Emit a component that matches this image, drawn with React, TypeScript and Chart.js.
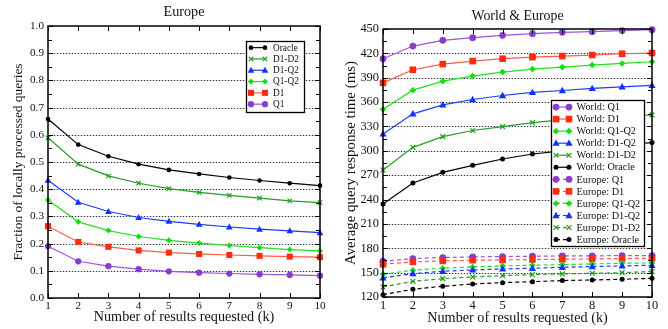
import React, { useEffect, useRef } from 'react';
import { Chart, registerables } from 'chart.js';

Chart.register(...registerables);

// ---------- data ----------
const K_LABELS = ['1', '2', '3', '4', '5', '6', '7', '8', '9', '10'];

const FRAC_Y_TICKS = [0, 0.1, 0.2, 0.3, 0.4, 0.5, 0.6, 0.7, 0.8, 0.9, 1.0];
const TIME_Y_TICKS = [120, 150, 180, 210, 240, 270, 300, 330, 360, 390, 420, 450];

const EU_FRAC_ORACLE = [0.658, 0.564, 0.521, 0.492, 0.471, 0.456, 0.443, 0.432, 0.422, 0.413];
const EU_FRAC_D1D2 = [0.589, 0.492, 0.449, 0.422, 0.402, 0.388, 0.377, 0.367, 0.357, 0.351];
const EU_FRAC_D1Q2 = [0.433, 0.352, 0.318, 0.296, 0.282, 0.271, 0.261, 0.253, 0.247, 0.24];
const EU_FRAC_Q1Q2 = [0.36, 0.28, 0.248, 0.226, 0.212, 0.202, 0.193, 0.185, 0.178, 0.173];
const EU_FRAC_D1 = [0.264, 0.206, 0.188, 0.175, 0.167, 0.162, 0.158, 0.155, 0.152, 0.15];
const EU_FRAC_Q1 = [0.19, 0.135, 0.117, 0.106, 0.098, 0.093, 0.09, 0.087, 0.085, 0.082];

const WORLD_Q1 = [413.4, 429, 436, 439.3, 442.2, 444.2, 445.9, 446.7, 448, 449.2];
const WORLD_D1 = [383.7, 399.8, 406.8, 410.5, 413.4, 415.4, 416.7, 417.9, 419.5, 420.4];
const WORLD_Q1Q2 = [351.2, 374.7, 385.8, 392, 396.9, 400.6, 403.1, 405.6, 407.6, 409.7];
const WORLD_D1Q2 = [320.8, 345.5, 356.6, 363.2, 368.1, 371.9, 374.3, 376.8, 378.8, 380.5];
const WORLD_D1D2 = [276.4, 304.3, 317.5, 325, 329.8, 334.8, 338, 340.5, 342.5, 344.2];
const WORLD_ORACLE = [234.4, 260.3, 273.5, 282.1, 289.9, 296.1, 300, 304, 307.5, 310.1];
const EUROPE_Q1 = [164, 167.3, 168.6, 169.4, 169.8, 170.2, 170.6, 170.6, 171, 171];
const EUROPE_D1 = [160.3, 163.2, 164.4, 165.3, 165.7, 166.1, 166.5, 166.9, 167.3, 167.7];
const EUROPE_Q1Q2 = [148, 153, 155.4, 157, 158.3, 159.1, 159.9, 160.7, 161.6, 162];
const EUROPE_D1Q2 = [143.5, 148.8, 151.7, 153.3, 154.6, 155.4, 156.6, 157.5, 158.3, 159.1];
const EUROPE_D1D2 = [132.3, 139.3, 142.6, 144.7, 146.3, 147.6, 148.4, 149.2, 150, 151.3];
const EUROPE_ORACLE = [122.9, 129.5, 133.2, 136, 137.7, 138.9, 140.2, 141, 141.8, 143];

// ---------- styles ----------
const FONT = '"Liberation Serif", "DejaVu Serif", serif';

type Marker = 'circle' | 'rect' | 'triangle' | 'diamond' | 'cross' | 'dot';
type Style = { color: string; line: string; marker: Marker; r: number };

const ST: Record<string, Style> = {
  Q1: { color: '#8a3ccf', line: '#9a55d8', marker: 'circle', r: 3.4 },
  D1: { color: '#ff2a10', line: '#ff5a48', marker: 'rect', r: 3.3 },
  Q1Q2: { color: '#10e010', line: '#20e020', marker: 'diamond', r: 3.3 },
  D1Q2: { color: '#1030ff', line: '#1a3cff', marker: 'triangle', r: 3.8 },
  D1D2: { color: '#20a020', line: '#2a9a2a', marker: 'cross', r: 2.4 },
  ORACLE: { color: '#000000', line: '#000000', marker: 'dot', r: 2.5 },
};

type Series = { label: string; data: number[]; style: Style; dashed?: boolean };

const LEFT_SERIES: Series[] = [
  { label: 'Oracle', data: EU_FRAC_ORACLE, style: ST.ORACLE },
  { label: 'D1-D2', data: EU_FRAC_D1D2, style: ST.D1D2 },
  { label: 'D1-Q2', data: EU_FRAC_D1Q2, style: ST.D1Q2 },
  { label: 'Q1-Q2', data: EU_FRAC_Q1Q2, style: ST.Q1Q2 },
  { label: 'D1', data: EU_FRAC_D1, style: ST.D1 },
  { label: 'Q1', data: EU_FRAC_Q1, style: ST.Q1 },
];

const RIGHT_SERIES: Series[] = [
  { label: 'World: Q1', data: WORLD_Q1, style: ST.Q1 },
  { label: 'World: D1', data: WORLD_D1, style: ST.D1 },
  { label: 'World: Q1-Q2', data: WORLD_Q1Q2, style: ST.Q1Q2 },
  { label: 'World: D1-Q2', data: WORLD_D1Q2, style: ST.D1Q2 },
  { label: 'World: D1-D2', data: WORLD_D1D2, style: ST.D1D2 },
  { label: 'World: Oracle', data: WORLD_ORACLE, style: ST.ORACLE },
  { label: 'Europe: Q1', data: EUROPE_Q1, style: ST.Q1, dashed: true },
  { label: 'Europe: D1', data: EUROPE_D1, style: ST.D1, dashed: true },
  { label: 'Europe: Q1-Q2', data: EUROPE_Q1Q2, style: ST.Q1Q2, dashed: true },
  { label: 'Europe: D1-Q2', data: EUROPE_D1Q2, style: ST.D1Q2, dashed: true },
  { label: 'Europe: D1-D2', data: EUROPE_D1D2, style: ST.D1D2, dashed: true },
  { label: 'Europe: Oracle', data: EUROPE_ORACLE, style: ST.ORACLE, dashed: true },
];

// ---------- marker drawing ----------
function drawMarker(ctx: CanvasRenderingContext2D, m: Marker, x: number, y: number, r: number, color: string) {
  ctx.save();
  ctx.fillStyle = color;
  ctx.strokeStyle = color;
  ctx.setLineDash([]);
  ctx.lineWidth = 1;
  ctx.beginPath();
  if (m === 'circle' || m === 'dot') {
    ctx.arc(x, y, r, 0, Math.PI * 2);
    ctx.fill();
  } else if (m === 'rect') {
    ctx.rect(x - r, y - r, 2 * r, 2 * r);
    ctx.fill();
  } else if (m === 'triangle') {
    ctx.moveTo(x, y - r);
    ctx.lineTo(x + r * 0.95, y + r * 0.7);
    ctx.lineTo(x - r * 0.95, y + r * 0.7);
    ctx.closePath();
    ctx.fill();
  } else if (m === 'diamond') {
    ctx.moveTo(x, y - r);
    ctx.lineTo(x + r, y);
    ctx.lineTo(x, y + r);
    ctx.lineTo(x - r, y);
    ctx.closePath();
    ctx.fill();
  } else if (m === 'cross') {
    ctx.lineWidth = 1.2;
    ctx.moveTo(x - r, y - r);
    ctx.lineTo(x + r, y + r);
    ctx.moveTo(x + r, y - r);
    ctx.lineTo(x - r, y + r);
    ctx.stroke();
  }
  ctx.restore();
}

type Legend = { x: number; y: number; w: number; h: number; rowH: number; m1: number; m2: number; tx: number; font: number };

type Cfg = {
  title: string;
  titleY: number;
  titleFont: number;
  yTitle: string;
  yTitleX: number;
  yTitleFont: number;
  xTitleY: number;
  xTitleFont: number;
  tickFont: number;
  markerScale: number;
  labels: string[];
  series: Series[];
  yTicks: number[];
  decimals: number;
  padTop: number;
  padRight: number;
  yWidth: number;
  xHeight: number;
  legend: Legend;
};

function makeMarkerPlugin(cfg: Cfg) {
  return {
    id: 'markers',
    afterDatasetsDraw(chart: any) {
      const ctx = chart.ctx;
      cfg.series.forEach((s, di) => {
        const meta = chart.getDatasetMeta(di);
        meta.data.forEach((pt: any) => {
          drawMarker(ctx, s.style.marker, pt.x, pt.y, s.style.r * cfg.markerScale, s.style.color);
        });
      });
    },
  };
}

function makeDecoPlugin(cfg: Cfg) {
  return {
    id: 'deco',
    beforeDatasetsDraw(chart: any) {
      const { ctx, chartArea: a, scales } = chart;
      const y = scales.y;
      ctx.save();
      ctx.lineWidth = 1;
      cfg.yTicks.forEach((v) => {
        const py = Math.round(y.getPixelForValue(v)) + 0.5;
        if (py <= a.top + 1 || py >= a.bottom - 1) return;
        ctx.setLineDash([]);
        ctx.strokeStyle = '#d4d4d4';
        ctx.beginPath();
        ctx.moveTo(a.left, py);
        ctx.lineTo(a.right, py);
        ctx.stroke();
        ctx.setLineDash([1, 2]);
        ctx.strokeStyle = '#333';
        ctx.beginPath();
        ctx.moveTo(a.left, py);
        ctx.lineTo(a.right, py);
        ctx.stroke();
      });
      ctx.restore();
    },
    afterDatasetsDraw(chart: any) {
      const { ctx, chartArea: a, scales } = chart;
      const x = scales.x;
      const y = scales.y;
      ctx.save();
      ctx.setLineDash([]);
      ctx.strokeStyle = '#000';
      ctx.lineWidth = 1;
      // inward ticks on all four sides
      ctx.beginPath();
      for (let i = 0; i < cfg.labels.length; i++) {
        const px = Math.round(x.getPixelForValue(i)) + 0.5;
        ctx.moveTo(px, a.bottom);
        ctx.lineTo(px, a.bottom - 5);
        ctx.moveTo(px, a.top);
        ctx.lineTo(px, a.top + 5);
      }
      for (let i = 0; i < cfg.yTicks.length; i++) {
        const v = cfg.yTicks[i];
        const py = Math.round(y.getPixelForValue(v)) + 0.5;
        ctx.moveTo(a.left, py);
        ctx.lineTo(a.left + 5, py);
        ctx.moveTo(a.right, py);
        ctx.lineTo(a.right - 5, py);
        if (i < cfg.yTicks.length - 1) {
          const mv = (v + cfg.yTicks[i + 1]) / 2;
          const pm = Math.round(y.getPixelForValue(mv)) + 0.5;
          ctx.moveTo(a.left, pm);
          ctx.lineTo(a.left + 4, pm);
          ctx.moveTo(a.right, pm);
          ctx.lineTo(a.right - 4, pm);
        }
      }
      ctx.stroke();
      // frame
      ctx.lineWidth = 1.5;
      ctx.strokeRect(a.left, a.top, a.right - a.left, a.bottom - a.top);

      // legend
      const L = cfg.legend;
      ctx.fillStyle = '#fff';
      ctx.fillRect(L.x, L.y, L.w, L.h);
      ctx.lineWidth = 1.3;
      ctx.strokeStyle = '#000';
      ctx.strokeRect(L.x + 0.5, L.y + 0.5, L.w, L.h);
      ctx.font = `${L.font}px ${FONT}`;
      ctx.textBaseline = 'middle';
      ctx.textAlign = 'left';
      cfg.series.forEach((s, i) => {
        const cy = L.y + L.rowH * (i + 0.5) + 1;
        ctx.save();
        ctx.strokeStyle = s.style.line;
        ctx.lineWidth = 1.2;
        ctx.setLineDash(s.dashed ? [4, 3] : []);
        ctx.beginPath();
        ctx.moveTo(L.m1, cy);
        ctx.lineTo(L.m2, cy);
        ctx.stroke();
        ctx.restore();
        const r = s.style.r * cfg.markerScale;
        drawMarker(ctx, s.style.marker, L.m1, cy, r, s.style.color);
        drawMarker(ctx, s.style.marker, L.m2, cy, r, s.style.color);
        ctx.fillStyle = '#111';
        ctx.fillText(s.label, L.tx, cy + 0.5);
      });

      // titles
      ctx.fillStyle = '#111';
      ctx.textAlign = 'center';
      ctx.textBaseline = 'middle';
      ctx.font = `${cfg.titleFont}px ${FONT}`;
      ctx.fillText(cfg.title, (a.left + a.right) / 2, cfg.titleY);
      ctx.font = `${cfg.xTitleFont}px ${FONT}`;
      ctx.fillText('Number of results requested (k)', (a.left + a.right) / 2, cfg.xTitleY);
      ctx.save();
      ctx.translate(cfg.yTitleX, (a.top + a.bottom) / 2);
      ctx.rotate(-Math.PI / 2);
      ctx.font = `${cfg.yTitleFont}px ${FONT}`;
      ctx.fillText(cfg.yTitle, 0, 0);
      ctx.restore();
      ctx.restore();
    },
  };
}

function ChartBox({ cfg, left }: { cfg: Cfg; left: number }) {
  const ref = useRef<HTMLCanvasElement | null>(null);
  useEffect(() => {
    if (!ref.current) return;
    const datasets = cfg.series.map((s) => ({
      label: s.label,
      data: s.data,
      borderColor: s.style.line,
      backgroundColor: s.style.color,
      borderWidth: 1.2,
      borderDash: s.dashed ? [4, 3] : [],
      pointRadius: 0,
      clip: false as any,
      tension: 0,
    }));
    const chart = new Chart(ref.current, {
      type: 'line',
      data: { labels: cfg.labels, datasets },
      options: {
        animation: false,
        responsive: false,
        maintainAspectRatio: false,
        layout: { padding: { top: cfg.padTop, right: cfg.padRight, left: 0, bottom: 0 } },
        plugins: { legend: { display: false }, title: { display: false }, tooltip: { enabled: false } },
        scales: {
          x: {
            type: 'category',
            offset: false,
            grid: { display: false, drawTicks: false },
            border: { display: false },
            ticks: {
              autoSkip: false,
              maxRotation: 0,
              padding: 1,
              color: '#111',
              font: { family: FONT, size: cfg.tickFont },
            },
            afterFit: (s: any) => {
              s.height = cfg.xHeight;
            },
          },
          y: {
            type: 'linear',
            min: cfg.yTicks[0],
            max: cfg.yTicks[cfg.yTicks.length - 1],
            afterBuildTicks: (s: any) => {
              s.ticks = cfg.yTicks.map((v) => ({ value: v }));
            },
            grid: { display: false, drawTicks: false },
            border: { display: false },
            ticks: {
              padding: 4,
              color: '#111',
              font: { family: FONT, size: cfg.tickFont },
              callback: (v: any) => Number(v).toFixed(cfg.decimals),
            },
            afterFit: (s: any) => {
              s.width = cfg.yWidth;
            },
          },
        },
      },
      plugins: [makeMarkerPlugin(cfg), makeDecoPlugin(cfg)],
    } as any);
    return () => chart.destroy();
  }, []);
  return (
    <canvas
      ref={ref}
      width={334}
      height={329}
      style={{ position: 'absolute', left, top: 0, width: 334, height: 329 }}
    />
  );
}

const LEFT_CFG: Cfg = {
  title: 'Europe',
  titleY: 12,
  titleFont: 14.2,
  yTitle: 'Fraction of locally processed queries',
  yTitleX: 18,
  yTitleFont: 13.4,
  xTitleY: 317,
  xTitleFont: 14.2,
  tickFont: 11.2,
  markerScale: 0.92,
  labels: K_LABELS,
  series: LEFT_SERIES,
  yTicks: FRAC_Y_TICKS,
  decimals: 1,
  padTop: 26,
  padRight: 14,
  yWidth: 48,
  xHeight: 31,
  legend: { x: 246, y: 41, w: 58, h: 71, rowH: 11.3, m1: 251, m2: 265, tx: 273, font: 9.3 },
};

const RIGHT_CFG: Cfg = {
  title: 'World & Europe',
  titleY: 16,
  titleFont: 13.9,
  yTitle: 'Average query response time (ms)',
  yTitleX: 17,
  yTitleFont: 14.9,
  xTitleY: 318,
  xTitleFont: 14.2,
  tickFont: 12.4,
  markerScale: 1,
  labels: K_LABELS,
  series: RIGHT_SERIES,
  yTicks: TIME_Y_TICKS,
  decimals: 0,
  padTop: 29,
  padRight: 16,
  yWidth: 49,
  xHeight: 32,
  legend: { x: 217, y: 100, w: 93, h: 146, rowH: 12.05, m1: 222, m2: 235, tx: 242.5, font: 10.3 },
};

export default function App() {
  return (
    <div style={{ position: 'fixed', left: 0, top: 0, width: 668, height: 329, background: '#fff' }}>
      <ChartBox cfg={LEFT_CFG} left={0} />
      <ChartBox cfg={RIGHT_CFG} left={334} />
    </div>
  );
}
